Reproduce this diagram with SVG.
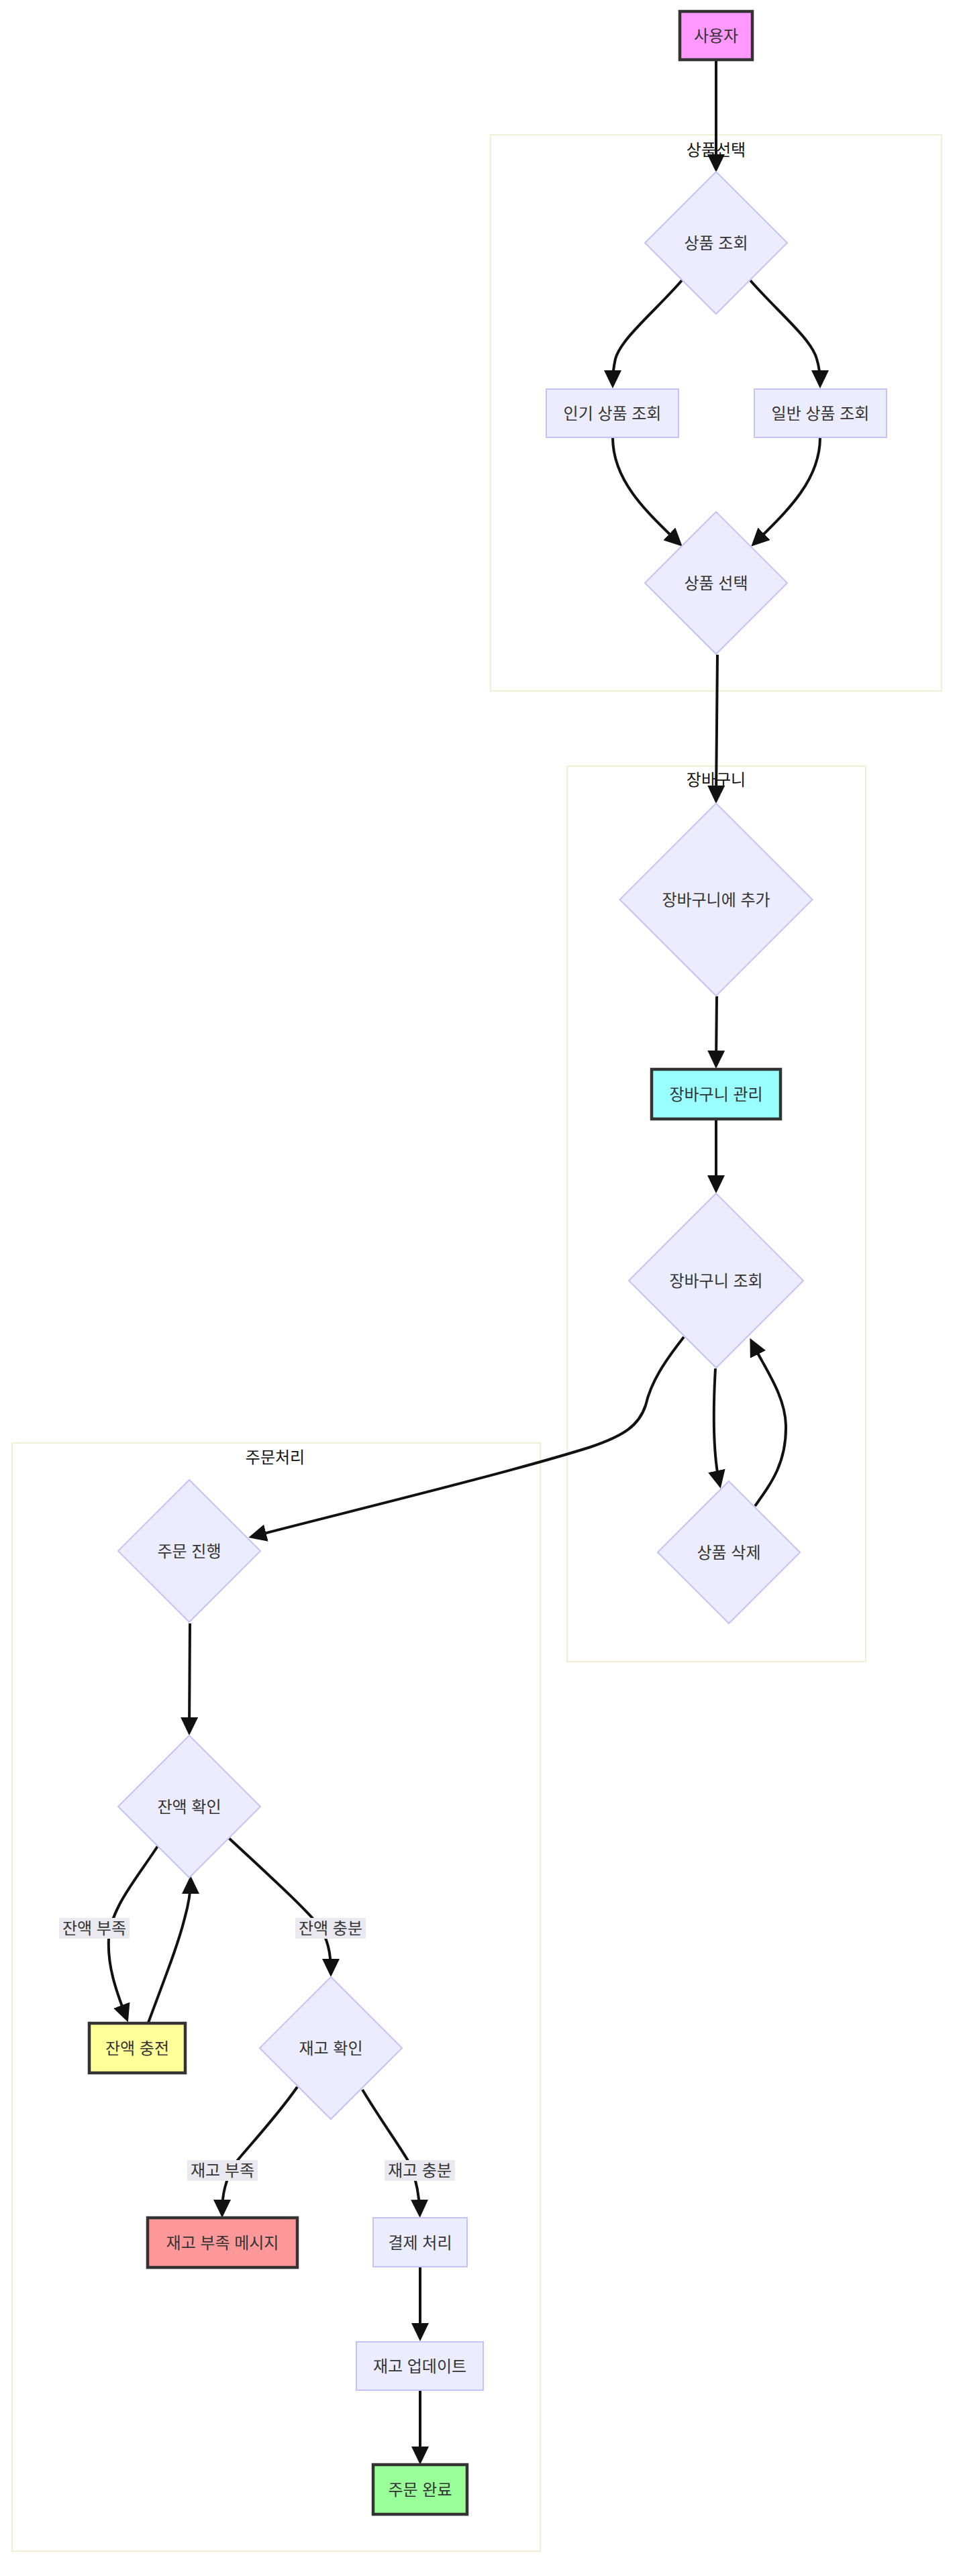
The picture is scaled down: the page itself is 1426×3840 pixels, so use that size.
<svg xmlns="http://www.w3.org/2000/svg" width="1426" height="3840" viewBox="0 0 1426 3840">
<style>
.bg{fill:#ffffff}
.cluster{fill:#ffffff;stroke:#efefd4;stroke-width:2}
.ctitle{font-family:"Liberation Sans","Noto Sans CJK KR",sans-serif;font-size:24px;fill:#111;text-anchor:middle;dominant-baseline:central}
.n{fill:#ececff;stroke:#c3c3fa;stroke-width:2}
.hl{stroke:#333;stroke-width:4.5}
.t{font-family:"Liberation Sans","Noto Sans CJK KR",sans-serif;font-size:24px;fill:#333;text-anchor:middle;dominant-baseline:central}
.e{fill:none;stroke:#111;stroke-width:4;marker-end:url(#arr)}
.lb{fill:#e9e9ef}
</style>
<defs>
<marker id="arr" viewBox="0 0 27 26" refX="19" refY="13" markerWidth="27" markerHeight="26" markerUnits="userSpaceOnUse" orient="auto">
<path d="M0,0 L27,13 L0,26 z" fill="#111"/>
</marker>
</defs>
<rect class="bg" x="0" y="0" width="1426" height="3840"/>

<g id="clusters">
<g id="cluster-product">
<rect class="cluster" x="731" y="201" width="672" height="829"/>
<text class="ctitle" x="1067" y="223">상품선택</text>
</g>
<g id="cluster-cart">
<rect class="cluster" x="845" y="1142" width="445" height="1335"/>
<text class="ctitle" x="1067" y="1162">장바구니</text>
</g>
<g id="cluster-order">
<rect class="cluster" x="18" y="2151" width="787" height="1652"/>
<text class="ctitle" x="410" y="2172">주문처리</text>
</g>
</g>

<g id="edges">
<path class="e" d="M1067,91 L1067,249"/>
<path class="e" d="M1016,418 C975,465 925,505 917,535 C914,548 913,558 913,571"/>
<path class="e" d="M1118,418 C1159,465 1209,505 1217,535 C1221,548 1222,558 1222,571"/>
<path class="e" d="M913,652 C913,715 960,760 1011,809"/>
<path class="e" d="M1222,652 C1222,715 1175,760 1125,809"/>
<path class="e" d="M1069,976 L1067,1190"/>
<path class="e" d="M1068,1485 L1067,1585"/>
<path class="e" d="M1067,1668 L1067,1771"/>
<path class="e" d="M1066,2040 C1062,2110 1063,2170 1072,2211"/>
<path class="e" d="M1125,2245 C1150,2210 1172,2180 1171,2125 C1170,2080 1140,2040 1121,2002"/>
<path class="e" d="M1019,1993 C990,2030 970,2060 962,2095 C952,2125 930,2140 880,2157 C760,2195 520,2253 378,2290"/>
<path class="e" d="M283,2420 L282,2579"/>
<path class="e" d="M235,2752 C200,2805 165,2845 162,2890 C160,2930 172,2965 188,3007"/>
<path class="e" d="M221,3015 C245,2950 265,2900 275,2860 C282,2835 284,2820 284,2804"/>
<path class="e" d="M341,2740 C400,2795 450,2840 475,2870 C488,2890 493,2910 493,2939"/>
<path class="e" d="M443,3111 C410,3158 370,3200 350,3225 C336,3250 331,3270 331,3298"/>
<path class="e" d="M540,3115 C570,3165 600,3205 612,3228 C622,3255 625,3275 625.5,3298"/>
<path class="e" d="M626,3380 L626,3482"/>
<path class="e" d="M626,3563 L626,3666"/>
</g>

<g id="edge-labels">
<g id="lbl-low-balance"><rect class="lb" x="88" y="2859" width="105" height="31"/><text class="t" x="140.5" y="2874.5">잔액 부족</text></g>
<g id="lbl-enough-balance"><rect class="lb" x="440" y="2859" width="105" height="31"/><text class="t" x="492.5" y="2874.5">잔액 충분</text></g>
<g id="lbl-low-stock"><rect class="lb" x="279" y="3220" width="105" height="31"/><text class="t" x="331.5" y="3235.5">재고 부족</text></g>
<g id="lbl-enough-stock"><rect class="lb" x="573" y="3220" width="105" height="31"/><text class="t" x="625.5" y="3235.5">재고 충분</text></g>
</g>

<g id="nodes">
<g id="user"><rect x="1013" y="17" width="108" height="72" fill="#ff99ff" class="hl"/><text class="t" x="1067" y="53">사용자</text></g>
<g id="browse"><polygon class="n" points="1067,256 1173,362 1067,468 961,362"/><text class="t" x="1067" y="362">상품 조회</text></g>
<g id="popular"><rect class="n" x="814" y="580" width="197" height="72"/><text class="t" x="912.5" y="616">인기 상품 조회</text></g>
<g id="general"><rect class="n" x="1124" y="580" width="197" height="72"/><text class="t" x="1222.5" y="616">일반 상품 조회</text></g>
<g id="select"><polygon class="n" points="1067,763 1173,869 1067,975 961,869"/><text class="t" x="1067" y="869">상품 선택</text></g>
<g id="add-cart"><polygon class="n" points="1067,1197.5 1210.5,1341 1067,1484.5 923.5,1341"/><text class="t" x="1067" y="1341">장바구니에 추가</text></g>
<g id="manage-cart"><rect x="971" y="1594" width="192" height="74" fill="#99ffff" class="hl"/><text class="t" x="1067" y="1631">장바구니 관리</text></g>
<g id="view-cart"><polygon class="n" points="1067,1779 1197,1909 1067,2039 937,1909"/><text class="t" x="1067" y="1909">장바구니 조회</text></g>
<g id="delete-item"><polygon class="n" points="1086,2208 1192,2314 1086,2420 980,2314"/><text class="t" x="1086" y="2314">상품 삭제</text></g>
<g id="order"><polygon class="n" points="282,2206 388,2312 282,2418 176,2312"/><text class="t" x="282" y="2312">주문 진행</text></g>
<g id="balance"><polygon class="n" points="282,2587 388,2693 282,2799 176,2693"/><text class="t" x="282" y="2693">잔액 확인</text></g>
<g id="charge"><rect x="133" y="3016" width="143" height="74" fill="#ffff99" class="hl"/><text class="t" x="204.5" y="3053">잔액 충전</text></g>
<g id="stock"><polygon class="n" points="493,2947 599,3053 493,3159 387,3053"/><text class="t" x="493" y="3053">재고 확인</text></g>
<g id="stock-msg"><rect x="220" y="3306" width="223" height="74" fill="#ff9999" class="hl"/><text class="t" x="331.5" y="3343">재고 부족 메시지</text></g>
<g id="pay"><rect class="n" x="556" y="3306" width="140" height="73"/><text class="t" x="626" y="3343">결제 처리</text></g>
<g id="update"><rect class="n" x="531" y="3491" width="189" height="72"/><text class="t" x="625.5" y="3527">재고 업데이트</text></g>
<g id="done"><rect x="556" y="3674" width="140" height="74" fill="#99ff99" class="hl"/><text class="t" x="626" y="3711">주문 완료</text></g>
</g>
</svg>
